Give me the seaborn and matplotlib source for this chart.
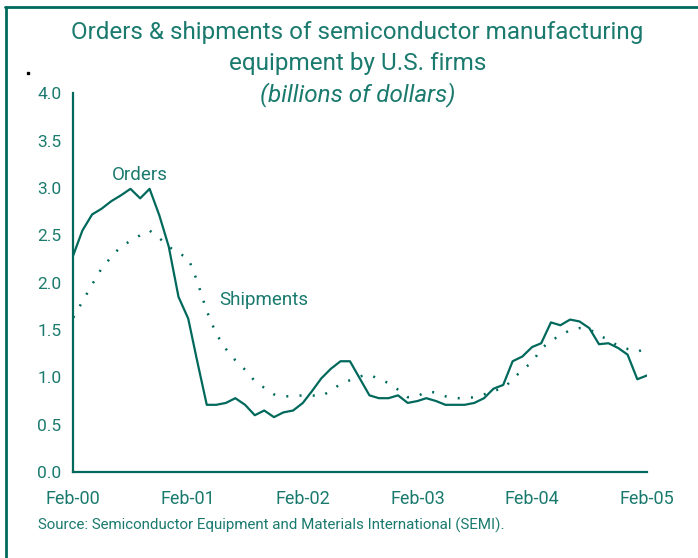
import pandas as pd
import matplotlib.pyplot as plt
from matplotlib.lines import Line2D
import seaborn as sns

# =========================
# DATA (billions of dollars, monthly Feb-00 .. Feb-05)
# =========================
start_month = "2000-02-01"

orders = [
    2.29, 2.55, 2.72, 2.78, 2.86, 2.92, 2.99, 2.89, 2.99, 2.71, 2.38, 1.85,
    1.62, 1.18, 0.71, 0.71, 0.73, 0.78, 0.71, 0.60, 0.65, 0.58, 0.63, 0.65,
    0.73, 0.85, 0.99, 1.09, 1.17, 1.17, 0.99, 0.81, 0.78, 0.78, 0.81, 0.73,
    0.75, 0.78, 0.75, 0.71, 0.71, 0.71, 0.73, 0.78, 0.88, 0.92, 1.17, 1.22,
    1.32, 1.36, 1.58, 1.55, 1.61, 1.59, 1.52, 1.35, 1.36, 1.31, 1.24, 0.98,
    1.02,
]

shipments = [
    1.63, 1.80, 1.98, 2.15, 2.27, 2.38, 2.44, 2.50, 2.55, 2.47, 2.38, 2.31,
    2.26, 2.02, 1.70, 1.46, 1.30, 1.18, 1.08, 0.96, 0.89, 0.82, 0.80, 0.80,
    0.81, 0.81, 0.80, 0.86, 0.93, 0.97, 1.01, 1.03, 0.98, 0.94, 0.87, 0.79,
    0.80, 0.85, 0.84, 0.80, 0.78, 0.78, 0.79, 0.82, 0.86, 0.88, 0.98, 1.08,
    1.16, 1.30, 1.39, 1.44, 1.50, 1.52, 1.51, 1.44, 1.40, 1.33, 1.30, 1.27,
    1.31,
]

y_ticks = [0.0, 0.5, 1.0, 1.5, 2.0, 2.5, 3.0, 3.5, 4.0]
x_tick_labels = ["Feb-00", "Feb-01", "Feb-02", "Feb-03", "Feb-04", "Feb-05"]

TEAL = "#00695C"
TEXT = "#1B7A6E"

# =========================
# SETTINGS
# =========================
sns.set_theme(style="white")
plt.rcParams["font.family"] = ["Roboto", "DejaVu Sans"]

months = pd.date_range(start_month, periods=len(orders), freq="MS")
df = pd.DataFrame({"month": months, "orders": orders, "shipments": shipments})

fig = plt.figure(figsize=(6.98, 5.58), dpi=100)
ax = fig.add_axes([0.105, 0.154, 0.822, 0.679])

sns.lineplot(data=df, x="month", y="orders", ax=ax, color=TEAL, linewidth=1.6)
sns.lineplot(data=df, x="month", y="shipments", ax=ax, color=TEAL,
             linewidth=1.8, linestyle=(0, (0.8, 4.5)))

ax.set_xlim(months[0], months[-1])
ax.set_ylim(0, 4)
ax.set_yticks(y_ticks)
ax.set_yticklabels([f"{v:.1f}" for v in y_ticks])
ax.set_xticks(months[::12])
ax.set_xticklabels(x_tick_labels)
ax.set_xlabel("")
ax.set_ylabel("")

for side in ["top", "right"]:
    ax.spines[side].set_visible(False)
for side in ["left", "bottom"]:
    ax.spines[side].set_color(TEAL)
    ax.spines[side].set_linewidth(1.6)

ax.tick_params(axis="both", direction="out", length=5, width=1.4,
               color=TEAL, labelcolor=TEXT, labelsize=12.5)
ax.tick_params(axis="x", labelsize=13, pad=8)

# series labels
ax.text(months[7], 3.08, "Orders", color=TEXT, fontsize=13.5, ha="center")
ax.text(months[20], 1.76, "Shipments", color=TEXT, fontsize=13.5, ha="center")

# title
fig.text(0.512, 0.941, "Orders & shipments of semiconductor manufacturing",
         ha="center", va="center", color=TEXT, fontsize=17.5)
fig.text(0.512, 0.886, "equipment by U.S. firms",
         ha="center", va="center", color=TEXT, fontsize=17.5)
fig.text(0.512, 0.830, "(billions of dollars)",
         ha="center", va="center", color=TEXT, fontsize=17.5, style="italic")

# source
fig.text(0.054, 0.059,
         "Source: Semiconductor Equipment and Materials International (SEMI).",
         ha="left", va="center", color=TEXT, fontsize=10.9)

# frame lines
fig.add_artist(Line2D([5 / 698, 1.0], [1 - 7 / 558, 1 - 7 / 558],
                      color=TEAL, linewidth=2))
fig.add_artist(Line2D([6 / 698, 6 / 698], [0.0, 1 - 7 / 558],
                      color=TEAL, linewidth=2))
fig.add_artist(Line2D([28 / 698], [1 - 73 / 558], marker="s",
                      markersize=1.5, color="black", linestyle="none"))

fig.savefig("out.png", dpi=100)
plt.close(fig)
